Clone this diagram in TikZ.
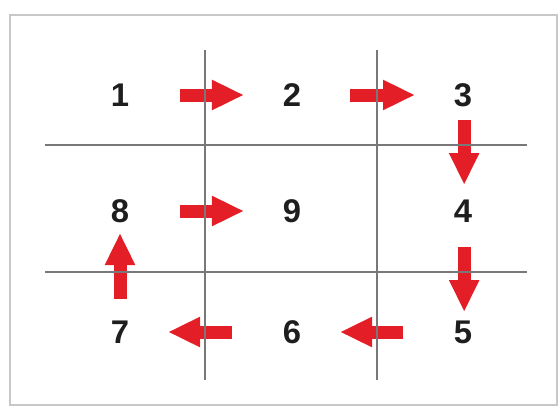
\documentclass[tikz,border=0pt]{standalone}
\usepackage{fontspec}
\setmainfont{Liberation Sans}
\usetikzlibrary{arrows.meta}
\definecolor{rossofr}{RGB}{228,30,38}
\definecolor{grigliac}{RGB}{120,120,120}
\definecolor{cornice}{RGB}{200,200,200}
\definecolor{cifra}{RGB}{30,30,30}
\begin{document}
\begin{tikzpicture}[x=0.03cm, y=-0.03cm,
	cella/.style   = {inner sep=0pt, text=cifra,
		font=\fontsize{28}{30}\selectfont\bfseries},
	freccia/.style = {draw=rossofr, line width=0.39cm, line cap=butt,
		-{Triangle[width=0.84cm, length=0.96cm]},
		shorten <=1.8cm, shorten >=1.44cm},
	griglia/.style = {grigliac, line width=0.9pt},
	]
	
	%% ── Parametri geometrici (pixel) ─────────────────────────────────────────
	\def\cA{120}  \def\cB{292}  \def\cC{463}   % colonne
	\def\rA{95}   \def\rB{211}  \def\rC{332}   % righe
	
	%% ── Cornice ──────────────────────────────────────────────────────────────
	\useasboundingbox (0,0) rectangle (560,409);
	\draw[cornice, line width=2.2pt](10,15) rectangle (557,405);
	
	%% ── Celle ────────────────────────────────────────────────────────────────
	\node[cella](n1)at(\cA,\rA){1};
	\node[cella](n2)at(\cB,\rA){2};
	\node[cella](n3)at(\cC,\rA){3};
	\node[cella](n8)at(\cA,\rB){8};
	\node[cella](n9)at(\cB,\rB){9};
	\node[cella](n4)at(\cC,\rB){4};
	\node[cella](n7)at(\cA,\rC){7};
	\node[cella](n6)at(\cB,\rC){6};
	\node[cella](n5)at(\cC,\rC){5};
	
	%% ── Frecce ───────────────────────────────────────────────────────────────
	\draw[freccia](n1.center)--(n2.center);
	\draw[freccia, shorten <=1.74cm](n2.center)--(n3.center);
	\draw[freccia, shorten <=0.75cm, shorten >=0.78cm]
	([xshift=1pt]n3.center)--([xshift=1pt]n4.center);
	\draw[freccia, shorten <=1.08cm, shorten >=0.6cm]
	([xshift=1pt]n4.center)--([xshift=1pt]n5.center);
	\draw[freccia](n5.center)--(n6.center);
	\draw[freccia](n6.center)--(n7.center);
	\draw[freccia, shorten <=0.99cm, shorten >=0.66cm](n7.center)--(n8.center);
	\draw[freccia](n8.center)--(n9.center);
	
	%% ── Griglia ──────────────────────────────────────────────────────────────
	\draw[griglia](45,145)--(527,145);
	\draw[griglia](45,272)--(527,272);
	\draw[griglia](205,50)--(205,380);
	\draw[griglia](377,50)--(377,380);
	
\end{tikzpicture}
\end{document}
